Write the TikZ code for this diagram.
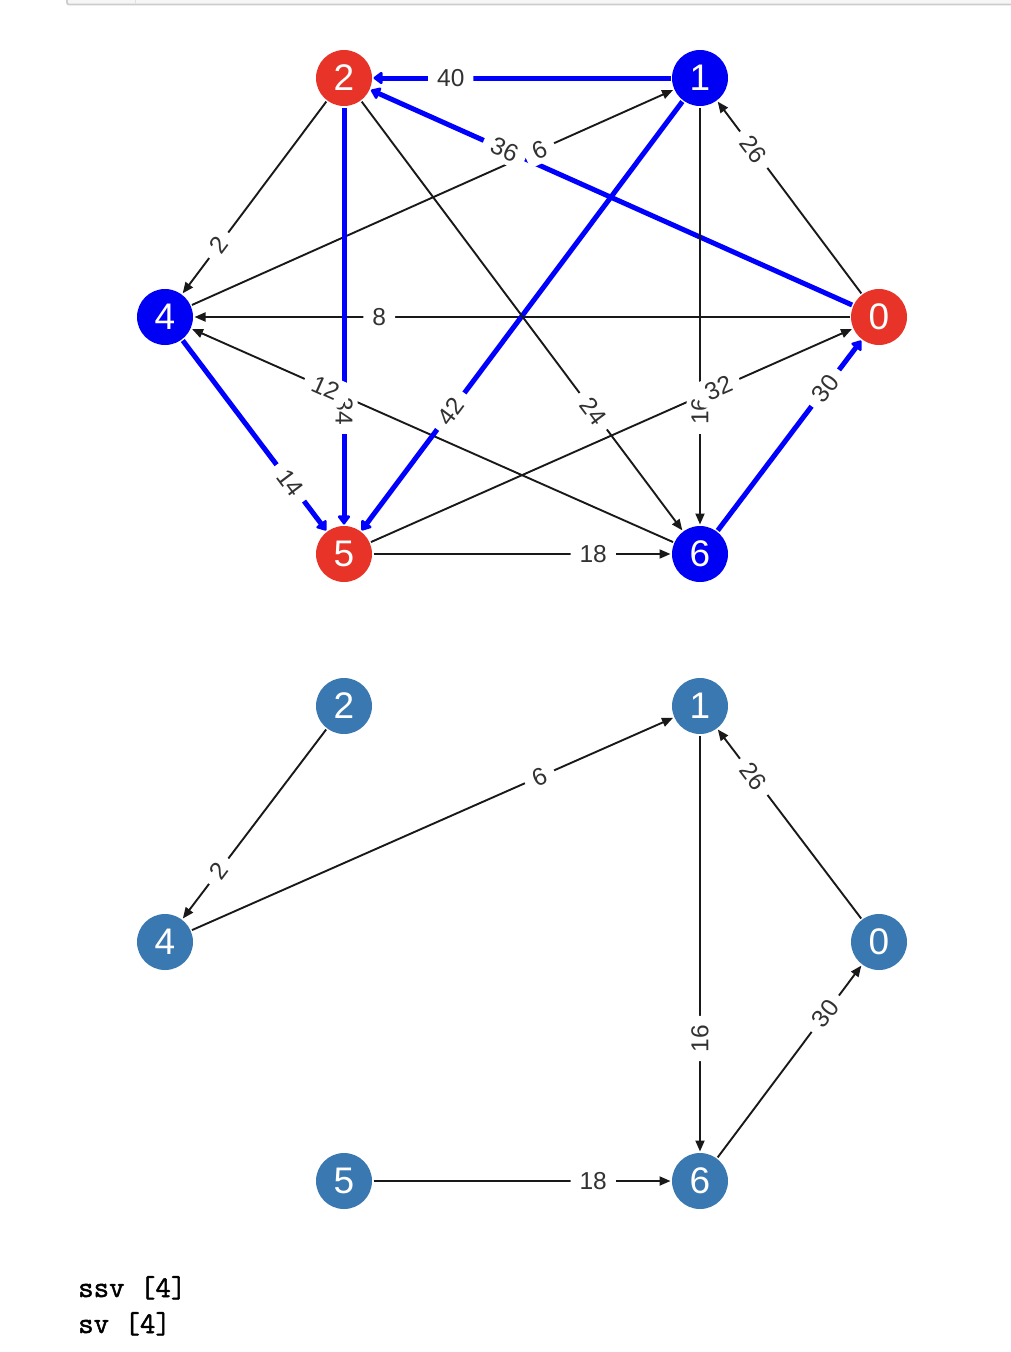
\documentclass[tikz,border=0pt]{standalone}
\usepackage{fontspec}
\setmainfont{Liberation Sans}
\newfontfamily\monof{Latin Modern Mono}[FakeBold=1.6]
\usetikzlibrary{arrows.meta,calc}
\definecolor{nred}{RGB}{232,52,40}
\definecolor{nblue}{RGB}{0,0,245}
\definecolor{nsteel}{RGB}{58,120,177}
\definecolor{eblue}{RGB}{0,0,255}
\definecolor{eblk}{RGB}{25,25,25}
\definecolor{labgray}{RGB}{50,50,50}
\definecolor{cellfill}{RGB}{246,246,246}
\definecolor{cellline}{RGB}{205,205,205}
\newcommand{\nodef}{\fontsize{37}{42}\selectfont}
\newcommand{\labf}{\fontsize{24.5}{28}\selectfont}
\newcommand{\outf}{\fontsize{30}{34}\selectfont\monof\bfseries}
\tikzset{
  vert/.style={circle, minimum size=56pt, inner sep=0pt, outer sep=1.5pt, text=white, font=\nodef},
  vred/.style={vert, fill=nred},
  vblue/.style={vert, fill=nblue},
  vsteel/.style={vert, fill=nsteel},
  blk/.style={draw=eblk, line width=1.9pt, -{Triangle[length=11pt,width=9pt]}},
  blu/.style={draw=eblue, line width=5pt, -{Triangle[length=10pt,width=14pt,round]}},
  elab/.style={fill=white, rounded corners=5pt, inner xsep=9pt, inner ysep=4pt, minimum height=27pt, text=labgray, font=\labf},
  outtext/.style={anchor=base west, inner sep=0pt, font=\outf}
}
\begin{document}
\begin{tikzpicture}[x=1pt,y=-1pt]
\useasboundingbox (0,0) rectangle (1010,1352);
% notebook cell frame at top
\fill[cellfill] (67,-2) rectangle (1012,4);
\draw[cellline, line width=1.8pt, rounded corners=2pt] (67,-3) -- (67,4.5) -- (1013,4.5);
\draw[cellline!60, line width=1pt] (135,-2) -- (135,3.5);

% ---------- top graph ----------
\node[vred]  (a2) at (344,78)  {2};
\node[vblue] (a1) at (700,78)  {1};
\node[vblue] (a4) at (165,317) {4};
\node[vred]  (a0) at (879,317) {0};
\node[vred]  (a5) at (344,554) {5};
\node[vblue] (a6) at (700,554) {6};

\draw[blu] (a1) -- (a2);
\draw[blu] (a0) -- (a2);
\draw[blk] (a4) -- (a1);
\draw[blk] (a0) -- (a1);
\draw[blk] (a2) -- (a4);
\draw[blk] (a0) -- (a4);
\draw[blk] (a6) -- (a4);
\draw[blu] (a2) -- (a5);
\draw[blu] (a1) -- (a5);
\draw[blu] (a4) -- (a5);
\draw[blk] (a2) -- (a6);
\draw[blk] (a1) -- (a6);
\draw[blk] (a5) -- (a0);
\draw[blu] (a6) -- (a0);
\draw[blk] (a5) -- (a6);

\node[elab, rotate=0]     (l40) at ($(a1)!0.7!(a2)$) {40};
\node[elab, rotate=-24.1] (l36) at ($(a0)!0.7!(a2)$) {36};
\node[elab, rotate=24.1]  (l6)  at ($(a4)!0.7!(a1)$) {6};
\node[elab, rotate=-53.2] (l26) at ($(a0)!0.7!(a1)$) {26};
\node[elab, rotate=53.2]  (l2)  at ($(a2)!0.7!(a4)$) {2};
\node[elab, rotate=0]     (l8)  at ($(a0)!0.7!(a4)$) {8};
\node[elab, rotate=-90]   (l34) at ($(a2)!0.7!(a5)$) {34};
\node[elab, rotate=-23.9] (l12) at ($(a6)!0.7!(a4)$) {12};
\node[elab, rotate=53.2]  (l42) at ($(a1)!0.7!(a5)$) {42};
\node[elab, rotate=-53]   (l14) at ($(a4)!0.7!(a5)$) {14};
\node[elab, rotate=-53.2] (l24) at ($(a2)!0.7!(a6)$) {24};
\node[elab, rotate=90]    (l16) at ($(a1)!0.7!(a6)$) {16};
\node[elab, rotate=23.9]  (l32) at ($(a5)!0.7!(a0)$) {32};
\node[elab, rotate=53]    (l30) at ($(a6)!0.7!(a0)$) {30};
\node[elab, rotate=0]     (l18) at ($(a5)!0.7!(a6)$) {18};

% ---------- bottom graph ----------
\node[vsteel] (b2) at (344,706)  {2};
\node[vsteel] (b1) at (700,706)  {1};
\node[vsteel] (b4) at (165,942)  {4};
\node[vsteel] (b0) at (879,942)  {0};
\node[vsteel] (b5) at (344,1181) {5};
\node[vsteel] (b6) at (700,1181) {6};

\draw[blk] (b2) -- (b4);
\draw[blk] (b4) -- (b1);
\draw[blk] (b0) -- (b1);
\draw[blk] (b1) -- (b6);
\draw[blk] (b6) -- (b0);
\draw[blk] (b5) -- (b6);

\node[elab, rotate=53.2]  (m2)  at ($(b2)!0.7!(b4)$) {2};
\node[elab, rotate=24.1]  (m6)  at ($(b4)!0.7!(b1)$) {6};
\node[elab, rotate=-53.2] (m26) at ($(b0)!0.7!(b1)$) {26};
\node[elab, rotate=90]    (m16) at ($(b1)!0.7!(b6)$) {16};
\node[elab, rotate=53]    (m30) at ($(b6)!0.7!(b0)$) {30};
\node[elab, rotate=0]     (m18) at ($(b5)!0.7!(b6)$) {18};

% ---------- printed output ----------
\node[outtext] (o1) at (78,1297) {ssv [4]};
\node[outtext] (o2) at (78,1333) {sv [4]};
\end{tikzpicture}
\end{document}
